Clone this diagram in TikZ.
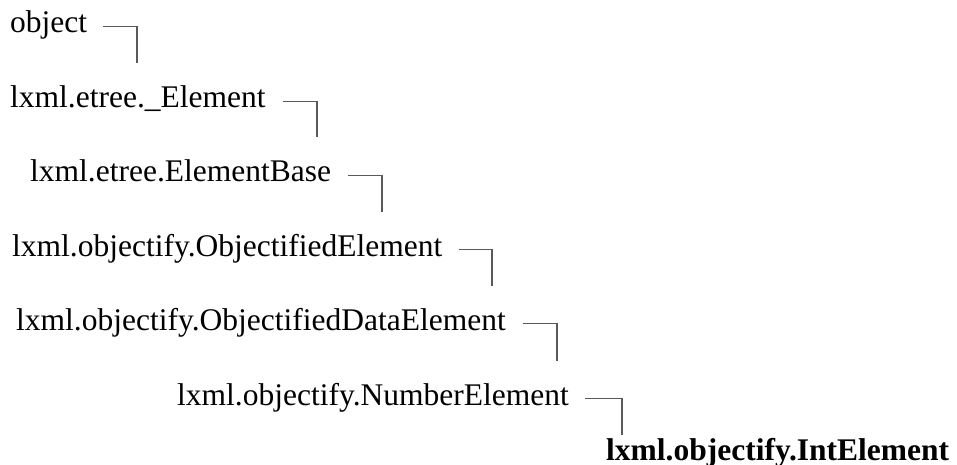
\documentclass[tikz,border=0pt]{standalone}
\usepackage{fontspec}
\setmainfont{Liberation Serif}
\begin{document}
\begin{tikzpicture}[x=1pt,y=-1pt,
  cls/.style={anchor=base west,inner sep=0pt,text height=20pt,text depth=7pt,font=\fontsize{31.5}{38}\selectfont},
  conn/.style={draw=black!65,line width=1.4pt}]
\useasboundingbox (0,0) rectangle (957,465);
\node[cls] (n1) at (10,33) {object};
\node[cls] (n2) at (10,108) {lxml.etree.\_Element};
\node[cls] (n3) at (30,182) {lxml.etree.ElementBase};
\node[cls] (n4) at (12,256) {lxml.objectify.ObjectifiedElement};
\node[cls] (n5) at (16,330) {lxml.objectify.ObjectifiedDataElement};
\node[cls] (n6) at (177,405) {lxml.objectify.NumberElement};
\node[cls,font=\fontsize{31.5}{38}\selectfont\bfseries] (n7) at (606,460) {lxml.objectify.IntElement};
\coordinate (c1) at (137,63);
\coordinate (c2) at (317,137);
\coordinate (c3) at (382,212);
\coordinate (c4) at (492,286);
\coordinate (c5) at (557,361);
\coordinate (c6) at (622,435);
\draw[conn] ([xshift=16pt]n1.east) -| (c1);
\draw[conn] ([xshift=17pt]n2.east) -| (c2);
\draw[conn] ([xshift=17pt]n3.east) -| (c3);
\draw[conn] ([xshift=17pt]n4.east) -| (c4);
\draw[conn] ([xshift=17pt]n5.east) -| (c5);
\draw[conn] ([xshift=16pt]n6.east) -| (c6);
\end{tikzpicture}
\end{document}
